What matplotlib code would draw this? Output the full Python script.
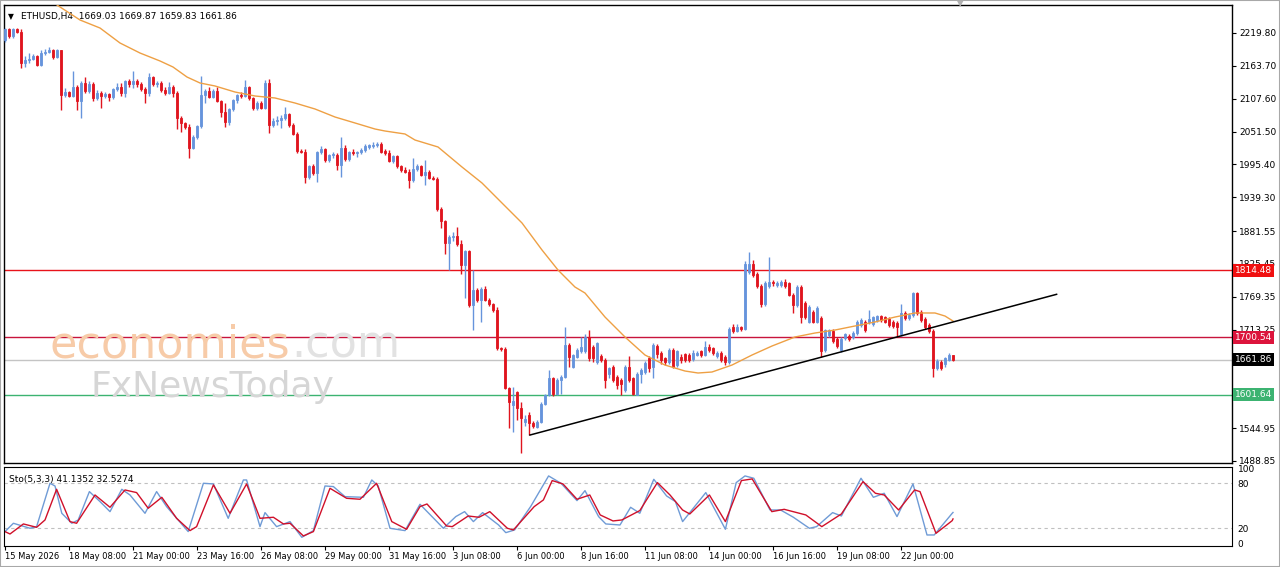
import matplotlib
matplotlib.use("Agg")
import matplotlib.pyplot as plt
import matplotlib.transforms as mtransforms
from matplotlib.patches import Rectangle

# ETHUSD H4 candles
opens = [2208, 2226, 2214, 2226, 2222, 2169, 2173, 2176, 2180, 2165,
         2186, 2188, 2190, 2179, 2190, 2114, 2119, 2112, 2128, 2104,
         2134, 2121, 2133, 2108, 2117, 2112, 2115, 2110, 2124, 2128,
         2117, 2138, 2132, 2138, 2132, 2124, 2117, 2144, 2133, 2135,
         2123, 2118, 2128, 2117, 2075, 2066, 2060, 2024, 2043, 2061,
         2114, 2121, 2111, 2120, 2104, 2085, 2067, 2090, 2105, 2114,
         2112, 2127, 2108, 2091, 2100, 2092, 2134, 2063, 2070, 2072,
         2075, 2081, 2063, 2047, 2018, 2017, 1974, 1992, 1980, 2017,
         2021, 2003, 2011, 2012, 1994, 2024, 2004, 2017, 2014, 2017,
         2020, 2025, 2026, 2028, 2031, 2019, 2015, 2001, 2010, 1992,
         1986, 1983, 1969, 1987, 1993, 1977, 1983, 1972, 1970, 1920,
         1898, 1861, 1872, 1873, 1859, 1823, 1847, 1755, 1781, 1764,
         1782, 1764, 1757, 1747, 1681, 1680, 1613, 1584, 1606, 1579,
         1556, 1567, 1554, 1547, 1556, 1587, 1601, 1630, 1603, 1628,
         1633, 1687, 1650, 1667, 1676, 1676, 1701, 1684, 1658, 1668,
         1661, 1638, 1650, 1633, 1627, 1610, 1650, 1630, 1601, 1638,
         1641, 1664, 1650, 1685, 1673, 1664, 1658, 1678, 1653, 1667,
         1671, 1670, 1663, 1670, 1676, 1670, 1684, 1681, 1668, 1673,
         1666, 1658, 1717, 1711, 1717, 1715, 1812, 1826, 1809, 1788,
         1757, 1787, 1795, 1789, 1789, 1795, 1792, 1772, 1755, 1786,
         1759, 1727, 1744, 1727, 1733, 1678, 1704, 1711, 1698, 1678,
         1699, 1703, 1701, 1707, 1721, 1727, 1726, 1723, 1730, 1736,
         1734, 1731, 1726, 1725, 1705, 1742, 1733, 1738, 1775, 1744,
         1732, 1721, 1711, 1647, 1658, 1655, 1662, 1669.03]
highs = [2229, 2228, 2228, 2229, 2227, 2180, 2185, 2184, 2182, 2190,
         2192, 2196, 2192, 2193, 2191, 2125, 2121, 2155, 2131, 2137,
         2144, 2137, 2136, 2122, 2121, 2119, 2118, 2126, 2134, 2135,
         2140, 2142, 2155, 2141, 2136, 2127, 2151, 2146, 2138, 2138,
         2127, 2136, 2131, 2120, 2078, 2068, 2065, 2046, 2063, 2146,
         2124, 2127, 2124, 2128, 2106, 2101, 2092, 2107, 2116, 2119,
         2140, 2129, 2110, 2103, 2103, 2139, 2141, 2074, 2078, 2080,
         2093, 2084, 2066, 2050, 2022, 2021, 1994, 1996, 2019, 2026,
         2023, 2013, 2016, 2014, 2043, 2028, 2019, 2021, 2019, 2023,
         2030, 2031, 2033, 2034, 2033, 2022, 2020, 2012, 2012, 1995,
         1991, 1988, 2006, 1996, 1995, 2003, 1986, 1975, 1973, 1923,
         1901, 1875, 1880, 1889, 1866, 1849, 1850, 1815, 1785, 1786,
         1788, 1767, 1759, 1751, 1684, 1683, 1616, 1616, 1609, 1590,
         1568, 1573, 1557, 1558, 1590, 1603, 1645, 1633, 1630, 1636,
         1718, 1690, 1672, 1681, 1701, 1705, 1712, 1687, 1692, 1671,
         1664, 1650, 1653, 1636, 1630, 1652, 1668, 1633, 1641, 1647,
         1660, 1668, 1690, 1688, 1676, 1667, 1682, 1681, 1679, 1672,
         1674, 1673, 1678, 1676, 1679, 1693, 1688, 1684, 1677, 1676,
         1669, 1718, 1722, 1722, 1720, 1830, 1846, 1832, 1812, 1791,
         1797, 1838, 1798, 1796, 1798, 1799, 1795, 1775, 1789, 1789,
         1762, 1755, 1747, 1753, 1736, 1715, 1715, 1714, 1701, 1701,
         1708, 1706, 1710, 1730, 1733, 1730, 1747, 1737, 1739, 1739,
         1737, 1734, 1729, 1728, 1757, 1745, 1741, 1778, 1777, 1747,
         1735, 1724, 1714, 1663, 1661, 1667, 1673, 1669.87]
lows = [2204, 2212, 2211, 2219, 2160, 2161, 2168, 2174, 2163, 2164,
        2183, 2185, 2175, 2177, 2088, 2111, 2110, 2110, 2088, 2074,
        2118, 2117, 2104, 2106, 2091, 2109, 2103, 2107, 2120, 2113,
        2110, 2128, 2125, 2128, 2120, 2101, 2112, 2130, 2128, 2119,
        2114, 2115, 2110, 2055, 2051, 2055, 2007, 2021, 2039, 2058,
        2100, 2108, 2109, 2102, 2076, 2060, 2063, 2087, 2100, 2108,
        2110, 2105, 2088, 2088, 2090, 2090, 2049, 2059, 2063, 2058,
        2071, 2060, 2045, 2015, 2014, 1964, 1971, 1977, 1965, 2013,
        2000, 2000, 2007, 1985, 1973, 2001, 2002, 2011, 2008, 2013,
        2016, 2021, 2023, 2025, 2015, 2012, 1999, 1998, 1990, 1983,
        1980, 1955, 1966, 1984, 1975, 1960, 1970, 1968, 1915, 1886,
        1843, 1815, 1865, 1856, 1809, 1767, 1752, 1712, 1760, 1727,
        1762, 1754, 1744, 1679, 1676, 1611, 1545, 1539, 1559, 1502,
        1549, 1533, 1546, 1545, 1553, 1584, 1599, 1600, 1601, 1603,
        1630, 1650, 1648, 1664, 1673, 1673, 1660, 1658, 1655, 1658,
        1613, 1630, 1624, 1612, 1601, 1607, 1624, 1602, 1601, 1622,
        1638, 1640, 1630, 1664, 1655, 1652, 1655, 1648, 1650, 1657,
        1658, 1658, 1660, 1668, 1667, 1668, 1675, 1670, 1665, 1658,
        1652, 1655, 1708, 1709, 1711, 1712, 1808, 1803, 1785, 1752,
        1754, 1784, 1788, 1786, 1786, 1784, 1770, 1741, 1752, 1724,
        1732, 1724, 1724, 1724, 1667, 1675, 1701, 1690, 1682, 1675,
        1696, 1694, 1698, 1704, 1718, 1709, 1723, 1720, 1727, 1727,
        1724, 1718, 1716, 1701, 1702, 1730, 1730, 1735, 1738, 1727,
        1715, 1707, 1633, 1644, 1644, 1650, 1659, 1659.83]
closes = [2226, 2214, 2226, 2222, 2169, 2173, 2176, 2180, 2165, 2186,
          2188, 2190, 2179, 2190, 2114, 2119, 2112, 2128, 2104, 2134,
          2121, 2133, 2108, 2117, 2112, 2115, 2110, 2124, 2128, 2117,
          2138, 2132, 2138, 2132, 2124, 2117, 2144, 2133, 2135, 2123,
          2118, 2128, 2117, 2075, 2066, 2060, 2024, 2043, 2061, 2114,
          2121, 2111, 2120, 2104, 2085, 2067, 2090, 2105, 2114, 2112,
          2127, 2108, 2091, 2100, 2092, 2134, 2063, 2070, 2072, 2075,
          2081, 2063, 2047, 2018, 2017, 1974, 1992, 1980, 2017, 2021,
          2003, 2011, 2012, 1994, 2024, 2004, 2017, 2014, 2017, 2020,
          2027, 2028, 2029, 2031, 2017, 2015, 2001, 2010, 1992, 1986,
          1983, 1969, 1987, 1993, 1977, 1983, 1972, 1970, 1920, 1898,
          1861, 1872, 1873, 1859, 1823, 1847, 1755, 1781, 1764, 1782,
          1764, 1757, 1747, 1681, 1680, 1613, 1590, 1592, 1579, 1563,
          1561, 1553, 1548, 1556, 1587, 1601, 1630, 1603, 1628, 1633,
          1687, 1667, 1670, 1678, 1684, 1701, 1664, 1664, 1690, 1661,
          1627, 1647, 1627, 1619, 1621, 1650, 1627, 1604, 1638, 1644,
          1656, 1647, 1687, 1672, 1661, 1658, 1678, 1650, 1676, 1661,
          1661, 1661, 1673, 1673, 1670, 1684, 1678, 1673, 1674, 1661,
          1658, 1715, 1711, 1717, 1714, 1826, 1826, 1806, 1788, 1757,
          1793, 1795, 1792, 1792, 1795, 1787, 1772, 1755, 1786, 1735,
          1735, 1752, 1727, 1750, 1676, 1712, 1712, 1693, 1685, 1698,
          1705, 1697, 1707, 1727, 1730, 1712, 1732, 1734, 1736, 1730,
          1727, 1721, 1719, 1717, 1742, 1733, 1738, 1775, 1741, 1730,
          1718, 1710, 1647, 1660, 1647, 1664, 1669, 1661.86]

# moving average (orange), sampled along the line: bar index, price
ma_idx = [12, 13, 18.75, 23.75, 28.75, 33.75, 38.75, 42, 45.5, 48.75, 52.5, 57.5,
          62.5, 67.5, 72.5, 77.5, 82.5, 87.5, 92.5, 95, 100, 102.5, 108.25,
          114.25, 119.25, 124.25, 129.25, 134.25, 138.25, 142.5, 145, 150, 155,
          160, 165, 170, 173.25, 176.75, 181.75, 186.75, 191.75, 197.5, 202.5,
          207.5, 212.5, 217.5, 222.5, 227.5, 232.5, 235, 237]
ma_val = [2275, 2267.6, 2242, 2228.3, 2202.7, 2185.6, 2172, 2161.7, 2144.6, 2134.4,
          2129.3, 2119, 2112.2, 2108.8, 2100.2, 2090, 2076.3, 2066.1, 2055.8,
          2052.4, 2047.3, 2037, 2025.1, 1990.9, 1963.6, 1929.4, 1895.3, 1849.2,
          1815, 1785.9, 1775.7, 1734.7, 1700.6, 1669.8, 1652.7, 1642.5, 1639.1,
          1640.8, 1652.7, 1669.8, 1685.2, 1700.6, 1707.4, 1712.5, 1719.4,
          1726.2, 1734.7, 1741.6, 1741.6, 1736.4, 1727.9]

# stochastic (5,3,3): main %K (blue) and signal %D (red)
k_idx = [0, 2.1, 6.25, 7.9, 11.25, 12.5, 14.2, 16.7, 18.3, 21.1, 23.75, 26.25,
         29.2, 31.25, 35, 37.9, 40.4, 45.8, 49.6, 52.1, 55.8, 59.6, 60.4, 63.75,
         65, 67.9, 71.25, 74.2, 77.1, 80, 82.1, 85, 89.6, 91.7, 93.3, 96.25, 100,
         103.75, 109.6, 112.7, 114.9, 117.1, 119.4, 123.4, 125.2, 127.4, 131.4,
         135.9, 139, 143, 145, 148.4, 150.2, 153.75, 156.4, 158.7, 162.2, 165.4,
         167.6, 169.4, 175.2, 180.1, 182.8, 185, 187.2, 191.25, 193.9, 197.1,
         201.1, 202.9, 206.9, 209.1, 214, 217.1, 219.8, 223, 227, 230.5, 232.3,
         236.8, 237]
k_val = [15.6, 26.7, 20, 22.2, 80, 76.4, 40, 26.7, 31.1, 68.9, 55.6, 42.2,
         72, 64.4, 40, 68.9, 48.9, 15.6, 80, 79.1, 33.3, 84.4, 84.4, 22.2,
         40.9, 22.2, 28.9, 8, 16.9, 76.4, 75.6, 62.2, 61.3, 84.4, 76.4, 20, 16.9,
         52, 20, 35.6, 42.2, 28.9, 40.9, 24.4, 14.2, 17.8, 48.9,
         89.8, 80, 56.9, 70.2, 35.6, 25.8, 24.4, 48, 40, 85.3, 63.1,
         55.6, 28.9, 67.6, 18.7, 80.9, 89.8, 86.7, 44.4, 44.4, 34.7,
         20, 22.2, 40.9, 36.4, 86.7, 61.3, 66.7, 35.6, 79.1, 11.1, 11.1,
         40, 41.1]
d_idx = [0, 1.25, 4.6, 7.9, 10, 12.9, 16.25, 17.9, 22.5, 26.25, 30, 32.9, 35.8,
         39.2, 42.9, 46.25, 47.9, 52.1, 56.25, 60.4, 63.75, 67.1, 69.6, 71.25,
         74.6, 77.1, 81.25, 85.4, 88.75, 92.9, 96.7, 100.4, 103.75, 105.5, 110.4,
         111.8, 115.8, 118.5, 121.2, 125.6, 127.1, 132.3, 134.6, 136.8, 139.5,
         143, 146.2, 148.8, 152, 154.2, 158.7, 163.1, 166.25, 169.4, 171.2,
         176.1, 180.1, 184.1, 186.8, 191.7, 194.8, 200.2, 204.2, 209.1, 214.5,
         217.6, 219.8, 223.4, 227.4, 228.75, 232.75, 236.8, 237]
d_val = [15.6, 12.4, 25.8, 21.3, 31.1, 72, 28.9, 26.7, 64.4, 48, 71.1, 67.6, 46.7,
         61.3, 33.3, 16.9, 22.2, 77.8, 40, 79.1, 33.3, 34.7, 25.8, 26.7,
         9.8, 15.6, 73.3, 60, 58.7, 80, 28.9, 18.7, 48.9, 52.4, 23.1,
         22.2, 36.4, 34.7, 42.2, 20, 17.8, 48.9, 57.8, 83.6, 79.1,
         58.7, 64.4, 37.8, 29.8, 31.1, 43.6, 80.9, 64.4, 44.4, 39.1,
         64.4, 28.9, 83.6, 85.8, 42.2, 45.3, 37.8, 22.2, 39.1, 82.2,
         66.7, 64.4, 44.4, 71.1, 68.9, 13.3, 30.2, 32.5]

# drawn objects
trend_idx = [131.25, 262.9]
trend_val = [1533.2, 1773.5]
levels = [1814.48, 1700.54, 1661.86, 1601.64]
level_colors = ["#e8121a", "#c8143c", "#c4c4c4", "#3cb371"]
label_colors = ["#f01010", "#dc143c", "#000000", "#3cb371"]

# price scale; the two levels under the 1661.86 / 1601.64 boxes are hidden
price_ticks = [2219.80, 2163.70, 2107.60, 2051.50, 1995.40, 1939.30, 1881.55,
               1825.45, 1769.35, 1713.25, 1544.95, 1488.85]
date_idx = [0, 16, 32, 48, 64, 80, 96, 112, 128, 144, 160, 176, 192, 208, 224]
date_labels = ["15 May 2026", "18 May 08:00", "21 May 00:00", "23 May 16:00",
               "26 May 08:00", "29 May 00:00", "31 May 16:00", "3 Jun 08:00",
               "6 Jun 00:00", "8 Jun 16:00", "11 Jun 08:00", "14 Jun 00:00",
               "16 Jun 16:00", "19 Jun 08:00", "22 Jun 00:00"]

UP = "#6694dc"
DOWN = "#e0141e"
FS = 6.5

fig = plt.figure(figsize=(12.8, 5.67), dpi=100)
fig.patch.set_facecolor("white")
fig.add_artist(Rectangle((0, 0), 1, 1, transform=fig.transFigure, fill=False,
                         edgecolor="#a8a8a8", lw=1.5))

W, H = 1280, 567
ax = fig.add_axes([4 / W, 1 - 463 / H, 1228 / W, 458 / H])
ax2 = fig.add_axes([4 / W, 1 - 546 / H, 1228 / W, 79 / H])

# watermark
fig.text(50 / W, 1 - 358 / H, "economies", fontsize=32, color="#f7cba8", va="baseline")
fig.text(291 / W, 1 - 358 / H, ".com", fontsize=32, color="#e2e2e2", va="baseline")
fig.text(90 / W, 1 - 397 / H, "FxNewsToday", fontsize=26, color="#d6d6d6", va="baseline")

# candles
xs = list(range(len(closes)))
for i in xs:
    o, h, l, c = opens[i], highs[i], lows[i], closes[i]
    col = UP if c >= o else DOWN
    ax.vlines(i, l, h, color=col, lw=1, zorder=3)
    ax.bar(i, max(abs(c - o), 1.5), bottom=min(o, c), width=0.62,
           color=col, edgecolor=col, lw=0.6, zorder=4)

ax.plot(ma_idx, ma_val, color="#eea044", lw=1, zorder=5)

for lv, lc in zip(levels, level_colors):
    ax.axhline(lv, color=lc, lw=1, zorder=2)

ax.plot(trend_idx, trend_val, color="black", lw=1.1, zorder=6)

ax.set_xlim(-0.25, 306.75)
ax.set_ylim(1485.4, 2267.6)
ax.set_xticks([])
ax.yaxis.tick_right()
ax.set_yticks(price_ticks)
ax.set_yticklabels([f"{v:.2f}" for v in price_ticks])
ax.tick_params(axis="y", length=3, width=0.8, pad=2, labelsize=FS, direction="out")
for s in ax.spines.values():
    s.set_linewidth(1)

trans = mtransforms.blended_transform_factory(ax.transAxes, ax.transData)
for lv, bc in zip(levels, label_colors):
    ax.text(1.0025, lv, f"{lv:.2f}", transform=trans, ha="left", va="center",
            fontsize=FS, color="white", clip_on=False, zorder=10,
            bbox=dict(boxstyle="square,pad=0.22", fc=bc, ec="none"))

ax.text(0.0035, 0.985, "\u25bc", transform=ax.transAxes, fontsize=5.5,
        ha="left", va="top")
ax.text(0.0135, 0.985, "ETHUSD,H4  1669.03 1669.87 1659.83 1661.86",
        transform=ax.transAxes, fontsize=FS, ha="left", va="top")
fig.text(960 / W, 1 - 4 / H, "\u25bc", fontsize=6, color="#b0b0b0",
         ha="center", va="center")

# stochastic panel
ax2.axhline(80, color="#c0c0c0", lw=0.8, ls=(0, (3, 3)))
ax2.axhline(20, color="#c0c0c0", lw=0.8, ls=(0, (3, 3)))
ax2.plot(k_idx, k_val, color="#6f9bd6", lw=1)
ax2.plot(d_idx, d_val, color="#d0102a", lw=1)
ax2.set_xlim(-0.25, 306.75)
ax2.set_ylim(-3.6, 101.7)
ax2.yaxis.tick_right()
ax2.set_yticks([0, 20, 80, 100])
ax2.set_yticklabels(["0", "20", "80", "100"])
ax2.tick_params(axis="y", length=0, pad=4, labelsize=FS)
ax2.set_xticks(date_idx)
ax2.set_xticklabels(date_labels)
ax2.tick_params(axis="x", length=3, width=0.8, pad=1.5, labelsize=6)
for lab in ax2.get_xticklabels():
    lab.set_ha("left")
ax2.text(0.004, 0.9, "Sto(5,3,3) 41.1352 32.5274", transform=ax2.transAxes,
         fontsize=FS, ha="left", va="top")

fig.savefig("out.png", dpi=100)
